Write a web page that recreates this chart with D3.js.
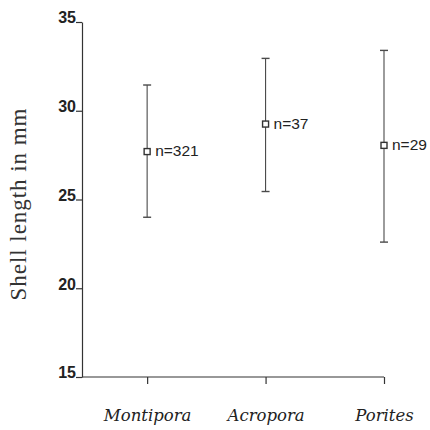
<!DOCTYPE html>
<html>
<head>
<meta charset="utf-8">
<script src="https://cdn.jsdelivr.net/npm/d3@7"></script>
<style>
  html, body { margin: 0; padding: 0; background: #fff; }
  svg { display: block; }
</style>
</head>
<body>
<svg id="chart" width="430" height="430"></svg>
<script>
// ---- data ----
const categories = ["Montipora", "Acropora", "Porites"];
const means = [27.7, 29.25, 28.05];
const upper = [31.45, 32.95, 33.4];
const lower = [24.0, 25.45, 22.6];
const nLabels = ["n=321", "n=37", "n=29"];
const yTicks = [15, 20, 25, 30, 35];
const yTitle = "Shell length in mm";

// ---- layout ----
const W = 430, H = 430;
const margin = { top: 22, right: 46, bottom: 53, left: 82 };
const svg = d3.select("#chart");
const g = svg.append("g").attr("transform", `translate(${margin.left},${margin.top})`);
const iw = W - margin.left - margin.right;
const ih = H - margin.top - margin.bottom;

const x = d3.scalePoint().domain(categories).range([0, iw]).padding(0.275).align(1);
const y = d3.scaleLinear().domain([15, 35]).range([ih, 0]);

const axisColor = "#333";
const barColor = "#4a4a4a";

// y axis
const yAxis = g.append("g")
  .call(d3.axisLeft(y).tickValues(yTicks).tickSize(6).tickSizeOuter(0).tickPadding(0).tickFormat(d3.format("d")));
yAxis.selectAll("path,line").attr("stroke", axisColor).attr("stroke-width", 1.2);
yAxis.selectAll("text")
  .attr("x", -6).attr("dy", "0.05em")
  .attr("font-family", "'Liberation Sans', Arial, sans-serif")
  .attr("font-weight", "bold").attr("font-size", 16).attr("fill", "#222");

// x axis
const xAxis = g.append("g").attr("transform", `translate(0,${ih})`)
  .call(d3.axisBottom(x).tickSize(7).tickSizeOuter(0));
xAxis.select(".domain").attr("d", `M0,0H${iw}`);
xAxis.selectAll("path,line").attr("stroke", axisColor).attr("stroke-width", 1.2);
xAxis.selectAll("text")
  .attr("y", 44).attr("dy", 0)
  .attr("font-family", "'DejaVu Serif', serif")
  .attr("font-style", "italic").attr("font-size", 16.5).attr("fill", "#222");

// y title
g.append("text")
  .attr("transform", `translate(${18 - margin.left},${ih / 2 + 5}) rotate(-90)`)
  .attr("text-anchor", "middle")
  .attr("dy", "0.35em")
  .attr("font-family", "'Liberation Serif', 'Times New Roman', serif")
  .attr("font-size", 23)
  .attr("textLength", 192)
  .attr("fill", "#333")
  .text(yTitle);

// error bars
const data = categories.map((c, i) => ({ c, m: means[i], hi: upper[i], lo: lower[i], n: nLabels[i] }));
const eb = g.selectAll(".eb").data(data).enter().append("g").attr("class", "eb");
eb.append("line")
  .attr("x1", d => x(d.c)).attr("x2", d => x(d.c))
  .attr("y1", d => y(d.hi)).attr("y2", d => y(d.lo))
  .attr("stroke", barColor).attr("stroke-width", 1.1);
eb.append("line")
  .attr("x1", d => x(d.c) - 4).attr("x2", d => x(d.c) + 4)
  .attr("y1", d => y(d.hi)).attr("y2", d => y(d.hi))
  .attr("stroke", barColor).attr("stroke-width", 1.4);
eb.append("line")
  .attr("x1", d => x(d.c) - 4).attr("x2", d => x(d.c) + 4)
  .attr("y1", d => y(d.lo)).attr("y2", d => y(d.lo))
  .attr("stroke", barColor).attr("stroke-width", 1.4);
eb.append("rect")
  .attr("x", d => x(d.c) - 3).attr("y", d => y(d.m) - 3)
  .attr("width", 6).attr("height", 6)
  .attr("fill", "#fff").attr("stroke", "#333").attr("stroke-width", 1.4);
eb.append("text")
  .attr("x", d => x(d.c) + 8).attr("y", d => y(d.m) + 4.5)
  .attr("font-family", "'Liberation Sans', Arial, sans-serif")
  .attr("font-size", 15.5).attr("fill", "#222")
  .text(d => d.n);
</script>
</body>
</html>
